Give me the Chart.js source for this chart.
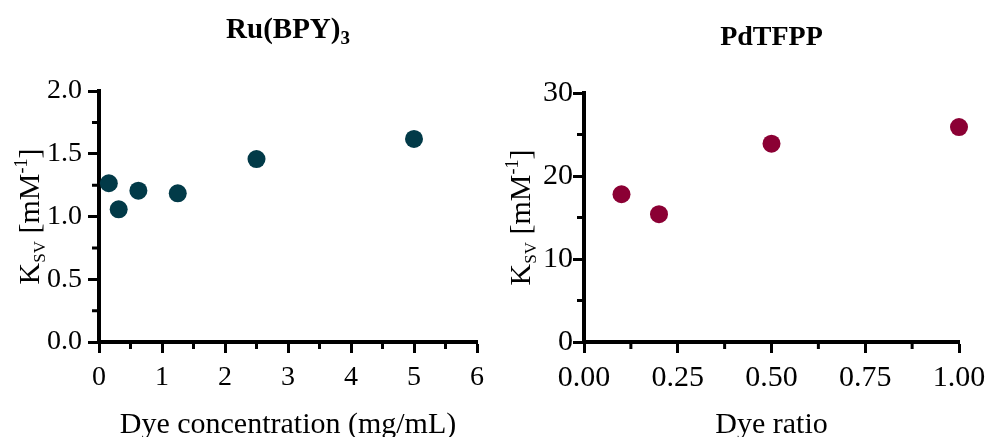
<!DOCTYPE html>
<html>
<head>
<meta charset="utf-8">
<script src="https://cdn.jsdelivr.net/npm/chart.js@4.4.1/dist/chart.umd.min.js"></script>
<style>
  html, body { margin: 0; padding: 0; background: #fff; }
  #wrap { position: relative; width: 986px; height: 437px; overflow: hidden; }
  .box { position: absolute; top: 0; width: 493px; height: 437px; }
</style>
</head>
<body>
<div id="wrap">
  <div class="box" style="left:0"><canvas id="ru" width="493" height="437"></canvas></div>
  <div class="box" style="left:493px"><canvas id="pd" width="493" height="437"></canvas></div>
</div>
<script>
// Ru(BPY)3 : Ksv vs dye concentration (mg/mL)
const ruConc = [0.156, 0.3125, 0.625, 1.25, 2.5, 5];
const ruKsv = [1.265, 1.057, 1.206, 1.185, 1.458, 1.618];
const ruXTicks = [0, 1, 2, 3, 4, 5, 6];
const ruYTicks = [0, 0.5, 1.0, 1.5, 2.0];

// PdTFPP : Ksv vs dye ratio
const pdRatio = [0.1, 0.2, 0.5, 1.0];
const pdKsv = [17.8, 15.4, 23.9, 25.9];
const pdXTicks = [0, 0.25, 0.5, 0.75, 1.0];
const pdYTicks = [0, 10, 20, 30];

const FONT = "'Liberation Serif', 'Times New Roman', serif";

function mids(arr) {
  const out = [];
  for (let i = 0; i < arr.length - 1; i++) out.push((arr[i] + arr[i + 1]) / 2);
  return out;
}

function drawParts(ctx, parts, x, y) {
  let total = 0;
  parts.forEach(p => { ctx.font = p.font; p.w = ctx.measureText(p.t).width; total += p.w; });
  let cx = x - total / 2;
  parts.forEach(p => {
    ctx.font = p.font;
    ctx.fillText(p.t, cx, y + (p.dy || 0));
    cx += p.w;
  });
}

// titles with sub/superscripts + minor tick marks
const decorPlugin = {
  id: 'decor',
  afterDraw(chart, args, opts) {
    const ctx = chart.ctx;
    const a = chart.chartArea;
    const cx = (a.left + a.right) / 2;
    const cy = (a.top + a.bottom) / 2;
    ctx.save();
    ctx.fillStyle = '#000';
    ctx.textBaseline = 'alphabetic';
    ctx.textAlign = 'left';
    drawParts(ctx, opts.title, cx, opts.titleY);
    drawParts(ctx, [{ t: opts.xTitle, font: '30px ' + FONT }], cx, 433);
    ctx.translate(opts.yTitleX, cy);
    ctx.rotate(-Math.PI / 2);
    drawParts(ctx, [
      { t: 'K', font: '30px ' + FONT },
      { t: 'SV', font: '17px ' + FONT, dy: 6 },
      { t: ' [mM', font: '30px ' + FONT },
      { t: '-1', font: '18px ' + FONT, dy: -12 },
      { t: ']', font: '30px ' + FONT }
    ], 0, 0);
    ctx.restore();

    // minor ticks
    ctx.save();
    ctx.strokeStyle = '#000';
    ctx.lineWidth = 3;
    ctx.beginPath();
    opts.xMinor.forEach(v => {
      const px = chart.scales.x.getPixelForValue(v);
      ctx.moveTo(px, a.bottom);
      ctx.lineTo(px, a.bottom + 7);
    });
    opts.yMinor.forEach(v => {
      const py = chart.scales.y.getPixelForValue(v);
      ctx.moveTo(a.left, py);
      ctx.lineTo(a.left - 7, py);
    });
    ctx.stroke();
    ctx.restore();
  }
};

function makeChart(id, c) {
  return new Chart(document.getElementById(id), {
    type: 'scatter',
    data: {
      datasets: [{
        data: c.xs.map((x, i) => ({ x: x, y: c.ys[i] })),
        backgroundColor: c.color,
        borderColor: c.color,
        borderWidth: 0,
        pointRadius: 9,
        pointHoverRadius: 9,
        clip: false
      }]
    },
    options: {
      responsive: false,
      animation: false,
      layout: { padding: c.pad },
      plugins: {
        legend: { display: false },
        tooltip: { enabled: false },
        decor: c.decor
      },
      scales: {
        x: {
          type: 'linear',
          min: c.xTicks[0],
          max: c.xTicks[c.xTicks.length - 1],
          afterBuildTicks: s => { s.ticks = c.xTicks.map(v => ({ value: v })); },
          afterFit: s => { s.height = 437 - c.bottom; s.paddingLeft = 0; s.paddingRight = 0; },
          grid: { drawOnChartArea: false, drawTicks: true, tickLength: 11, tickWidth: 3, tickColor: '#000' },
          border: { display: true, color: '#000', width: 4 },
          ticks: {
            color: '#000', font: { family: FONT, size: c.fs }, padding: c.xPad,
            maxRotation: 0, autoSkip: false,
            callback: v => Number(v).toFixed(c.xDec)
          }
        },
        y: {
          type: 'linear',
          min: c.yTicks[0],
          max: c.yTicks[c.yTicks.length - 1],
          afterBuildTicks: s => { s.ticks = c.yTicks.map(v => ({ value: v })); },
          afterFit: s => { s.width = c.left; s.paddingTop = 0; s.paddingBottom = 0; },
          grid: { drawOnChartArea: false, drawTicks: true, tickLength: 11, tickWidth: 3, tickColor: '#000' },
          border: { display: true, color: '#000', width: 4 },
          ticks: {
            color: '#000', font: { family: FONT, size: c.fs }, padding: c.yPad,
            autoSkip: false,
            callback: v => Number(v).toFixed(c.yDec)
          }
        }
      }
    },
    plugins: [decorPlugin]
  });
}

makeChart('ru', {
  xs: ruConc, ys: ruKsv, color: '#023a48', fs: 28,
  xTicks: ruXTicks, yTicks: ruYTicks, xDec: 0, yDec: 1,
  left: 99, bottom: 342, xPad: 8, yPad: 6,
  pad: { left: 0, top: 91, right: 16, bottom: 0 },
  decor: {
    title: [
      { t: 'Ru(BPY)', font: 'bold 29px ' + FONT },
      { t: '3', font: 'bold 19px ' + FONT, dy: 6 }
    ],
    titleY: 38, yTitleX: 39, xTitle: 'Dye concentration (mg/mL)',
    xMinor: mids(ruXTicks), yMinor: mids(ruYTicks)
  }
});

makeChart('pd', {
  xs: pdRatio, ys: pdKsv, color: '#8b0034', fs: 30,
  xTicks: pdXTicks, yTicks: pdYTicks, xDec: 2, yDec: 0,
  left: 91, bottom: 342, xPad: 7, yPad: 0,
  pad: { left: 0, top: 93, right: 27, bottom: 0 },
  decor: {
    title: [{ t: 'PdTFPP', font: 'bold 28px ' + FONT }],
    titleY: 45, yTitleX: 37, xTitle: 'Dye ratio',
    xMinor: mids(pdXTicks), yMinor: mids(pdYTicks)
  }
});
</script>
</body>
</html>
